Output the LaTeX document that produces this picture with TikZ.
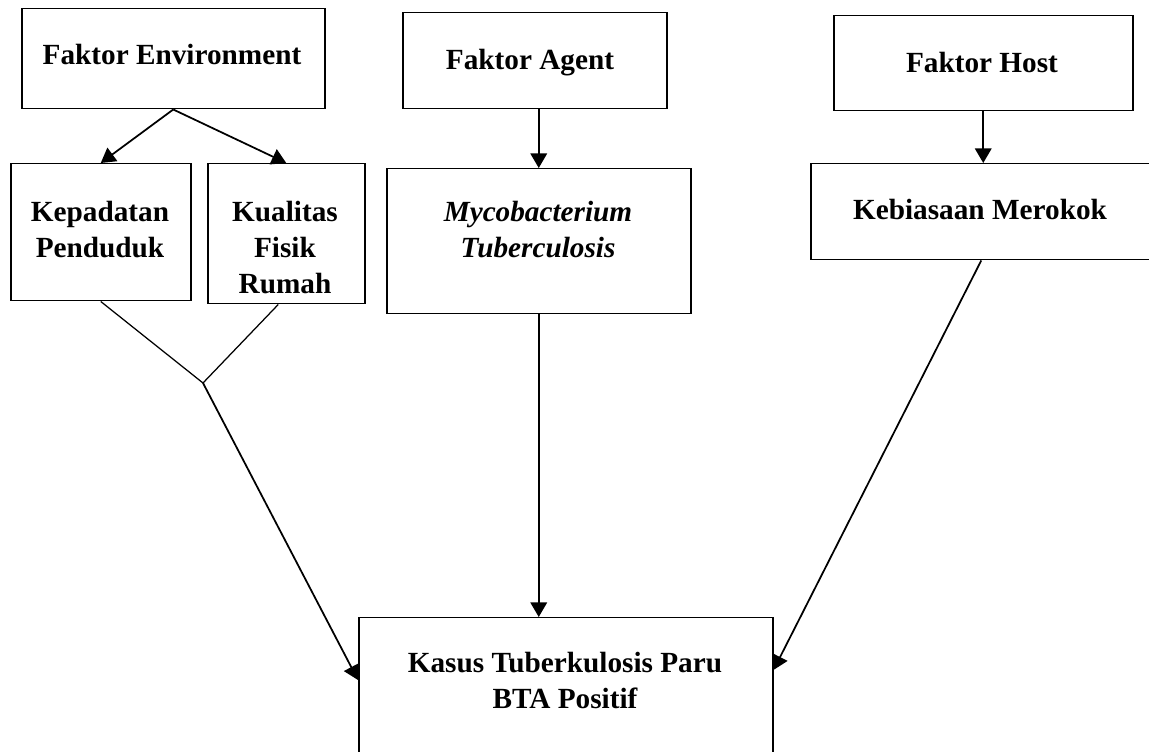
\documentclass[tikz,border=0pt]{standalone}
\usepackage{fontspec}
\setmainfont{Liberation Serif}
\usetikzlibrary{arrows.meta,calc}
\tikzset{
  box/.style={draw,line width=.6pt,anchor=north west,inner sep=0pt},
  txt/.style={font=\fontsize{11.7}{14.4}\selectfont\bfseries,align=center,anchor=base,inner sep=0pt},
  arr/.style={line width=.7pt,-{Triangle[width=6.6pt,length=5.8pt]}}
}
\begin{document}
\begin{tikzpicture}[x=.4pt,y=-.4pt]
  \useasboundingbox (0,0) rectangle (1149,752);
  \clip (0,0) rectangle (1149,752);
  \node[box,minimum width=121.2pt,minimum height=40pt] (env) at (21,8) {};
  \node[box,minimum width=72pt,minimum height=54.8pt] (kep) at (10,163) {};
  \node[box,minimum width=62.8pt,minimum height=56pt] (kual) at (207,163) {};
  \node[box,minimum width=105.6pt,minimum height=38.4pt] (agent) at (402,12) {};
  \node[box,minimum width=121.6pt,minimum height=58pt] (myco) at (386,168) {};
  \node[box,minimum width=119.6pt,minimum height=38pt] (host) at (833,15) {};
  \node[box,minimum width=136.4pt,minimum height=38.4pt] (kebi) at (810,163) {};
  \node[box,minimum width=165.6pt,minimum height=64pt] (kasus) at (358,617) {};

  \node[txt] (tenv) at (172,65) {Faktor Environment};
  \node[txt] (tkep) at (100,258) {Kepadatan\\Penduduk};
  \node[txt] (tkual) at (285,294) {Kualitas\\Fisik\\Rumah};
  \node[txt] (tagent) at (530,70) {Faktor Agent};
  \node[txt,font=\fontsize{11.7}{14.4}\selectfont\bfseries\itshape] (tmyco) at (538,258) {Mycobacterium\\Tuberculosis};
  \node[txt] (thost) at (982,73) {Faktor Host};
  \node[txt] (tkebi) at (980,220) {Kebiasaan Merokok};
  \node[txt] (tkasus) at (565,709) {Kasus Tuberkulosis Paru\\BTA Positif};

  \coordinate (join) at (203,383);
  \draw[arr] (env.south) -- (kep.north);
  \draw[arr] (env.south) -- (kual.north);
  \draw[line width=.5pt] (kep.south) -- (join) -- ($(kual.south)+(-8,0)$);
  \draw[arr] (join) -- ($(kasus.north west)+(0,63)$);
  \draw[arr] (myco.north |- agent.south) -- (myco.north);
  \draw[arr] (myco.south) -- (myco.south |- kasus.north);
  \draw[arr] (host.south) -- (host.south |- kebi.north);
  \draw[arr] (kebi.south) -- ($(kasus.north east)+(0,53)$);
\end{tikzpicture}
\end{document}
